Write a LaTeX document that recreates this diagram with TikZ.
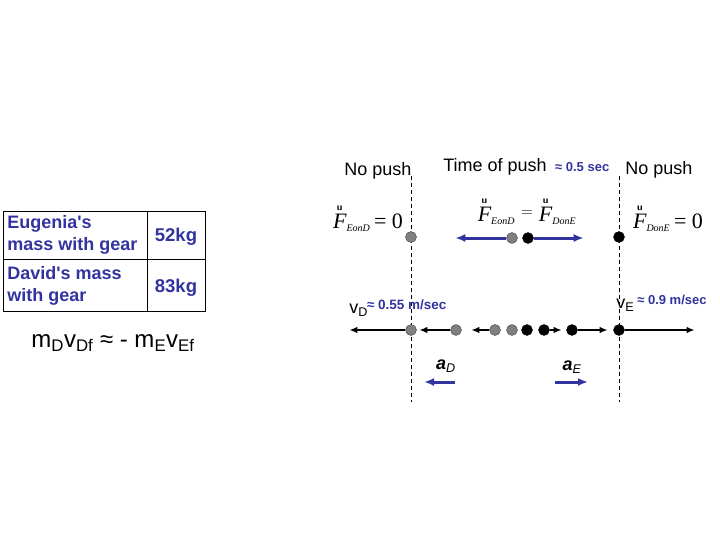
\documentclass[tikz,border=0pt]{standalone}
\usepackage{amsmath}
\usepackage{fontspec}
\usepackage{xcolor}
\usepackage{tikz}
\setmainfont{Liberation Sans}
\newfontfamily\tmsfont{Liberation Serif}
\usetikzlibrary{positioning,arrows.meta}

\definecolor{pushblue}{RGB}{51,51,160}
\definecolor{dotgray}{RGB}{128,128,128}

% force symbol as the slide prints it (small mark over italic F)
\newcommand{\Fon}[1]{{\tmsfont$\overset{\raisebox{-1pt}{\sffamily\bfseries\fontsize{10}{10}\selectfont u}}{\text{\itshape F}}_{\text{\itshape\fontsize{10}{10}\selectfont #1}}$}}

\begin{document}
\begin{tikzpicture}[
    x=1pt, y=-1pt,
    >={latex},
    thick,
    font=\fontsize{18}{21}\selectfont,
    dotD/.style={circle, fill=dotgray, draw=black!75, thin, minimum size=11pt, inner sep=0pt},
    dotE/.style={circle, fill=black, draw=black, thin, minimum size=11pt, inner sep=0pt},
    guide/.style={thin, dash pattern=on 4pt off 3pt},
    vel/.style={-{Latex[length=8pt,width=6.5pt]}, line width=2pt},
    acc/.style={-{Latex[length=10pt,width=8pt]}, line width=3pt, pushblue},
    massbox/.style={anchor=west, align=left, text=pushblue, font=\bfseries\fontsize{18}{22}\selectfont},
    small/.style={text=pushblue, font=\bfseries\fontsize{13}{15}\selectfont}
]
    \useasboundingbox (0,0) rectangle (720,540);

    % Mass table
    \draw[thin] (3,211) rectangle (205,311);
    \draw[thin] (3,259) -- (205,259);
    \draw[thin] (147,211) -- (147,311);
    \node[massbox, inner sep=1pt] (massE) at (6,235) {Eugenia\textquotesingle s\\mass with gear};
    \node[massbox, inner sep=1pt] (massD) at (6,286) {David\textquotesingle s mass\\with gear};
    \node[text=pushblue, font=\bfseries\fontsize{18.5}{21}\selectfont] (kgE) at (176,237) {52kg};
    \node[text=pushblue, font=\bfseries\fontsize{18.5}{21}\selectfont] (kgD) at (176,288) {83kg};

    % Momentum balance
    \node[font=\fontsize{24}{27}\selectfont] (momentum) at (113,343)
        {m\textsubscript{D}v\textsubscript{Df} ≈ - m\textsubscript{E}v\textsubscript{Ef}};

    % Push interval boundaries
    \draw[guide] (411,176) -- (411,402);
    \draw[guide] (619,176) -- (619,402);

    % Headings
    \node (nopushL) at (378,171) {No push};
    \node (pushtime) at (495,167) {Time of push};
    \node[small, right=1pt of pushtime] (pushdt) {≈ 0.5 sec};
    \node (nopushR) at (659,170) {No push};

    % Forces
    \node[font=\fontsize{22}{24}\selectfont] (forceL) at (368,218) {\Fon{EonD}{\tmsfont\,= 0}};
    \node[font=\fontsize{22}{24}\selectfont] (forceM) at (527,211) {\Fon{EonD} {\sffamily\fontsize{16}{16}\selectfont\raisebox{5pt}{=}} \Fon{DonE}};
    \node[font=\fontsize{22}{24}\selectfont] (forceR) at (668,218) {\Fon{DonE}{\tmsfont\,= 0}};

    % Skaters at the moment of push
    \node[dotD] (pD0) at (411,237) {};
    \node[dotD] (pD) at (512,238) {};
    \node[dotE] (pE) at (528,238) {};
    \node[dotE] (pE0) at (619,237) {};
    \draw[acc] (pD.west) -- ++(-51,0);
    \draw[acc] (pE.east) -- ++(50,0);

    % Final speeds
    \node[anchor=west, inner sep=0pt] (velD) at (349,308) {v\textsubscript{D}\hspace{-1pt}\raisebox{4pt}{\textcolor{pushblue}{\bfseries\fontsize{13.5}{15}\selectfont ≈ 0.55 m/sec}}};
    \node[anchor=west, inner sep=0pt] (velE) at (616,303) {v\textsubscript{E}\,\raisebox{4pt}{\textcolor{pushblue}{\bfseries\fontsize{13}{15}\selectfont ≈ 0.9 m/sec}}};

    % Strobe positions
    \node[dotD] (sD1) at (411,330) {};
    \node[dotD] (sD2) at (456,330) {};
    \node[dotD] (sD3) at (495,330) {};
    \node[dotD] (sD4) at (512,330) {};
    \node[dotE] (sE4) at (527,330) {};
    \node[dotE] (sE3) at (544,330) {};
    \node[dotE] (sE2) at (572,330) {};
    \node[dotE] (sE1) at (619,330) {};
    \draw[vel] (sD1.west) -- ++(-56,0);
    \draw[vel] (sD2.west) -- ++(-31,0);
    \draw[vel] (sD3.west) -- ++(-18,0);
    \draw[vel] (sE3.east) -- ++(12,0);
    \draw[vel] (sE2.east) -- ++(30,0);
    \draw[vel] (sE1.east) -- ++(70,0);

    % Accelerations
    \node[font=\bfseries\itshape\fontsize{18}{20}\selectfont] (accD) at (446,366) {a\textsubscript{\mdseries D}};
    \node[font=\bfseries\itshape\fontsize{18}{20}\selectfont] (accE) at (572,367) {a\textsubscript{\mdseries E}};
    \coordinate (accDend) at (424,382);
    \coordinate (accEend) at (588,382);
    \draw[acc] (455,382) -- (accDend);
    \draw[acc] (555,382) -- (accEend);

\end{tikzpicture}
\end{document}
